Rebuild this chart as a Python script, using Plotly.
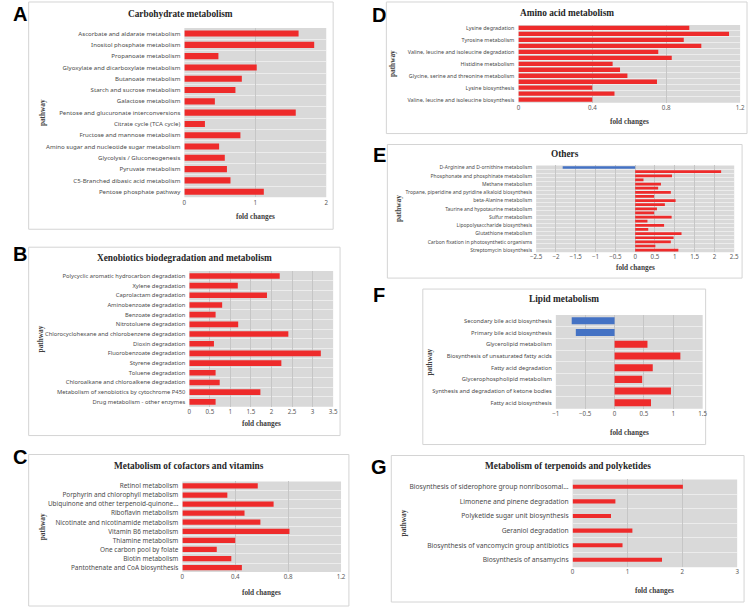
import plotly.graph_objects as go

W, H = 753, 609

# ---------------- data ----------------
A_labels = ["Ascorbate and aldarate metabolism", "Inositol phosphate metabolism", "Propanoate metabolism",
            "Glyoxylate and dicarboxylate metabolism", "Butanoate metabolism", "Starch and sucrose metabolism",
            "Galactose metabolism", "Pentose and glucuronate interconversions", "Citrate cycle (TCA cycle)",
            "Fructose and mannose metabolism", "Amino sugar and nucleotide sugar metabolism",
            "Glycolysis / Gluconeogenesis", "Pyruvate metabolism", "C5-Branched dibasic acid metabolism",
            "Pentose phosphate pathway"]
A_values = [1.61, 1.83, 0.48, 1.02, 0.81, 0.72, 0.43, 1.57, 0.29, 0.79, 0.49, 0.57, 0.60, 0.65, 1.12]

B_labels = ["Polycyclic aromatic hydrocarbon degradation", "Xylene degradation", "Caprolactam degradation",
            "Aminobenzoate degradation", "Benzoate degradation", "Nitrotoluene degradation",
            "Chlorocyclohexane and chlorobenzene degradation", "Dioxin degradation", "Fluorobenzoate degradation",
            "Styrene degradation", "Toluene degradation", "Chloroalkane and chloroalkene degradation",
            "Metabolism of xenobiotics by cytochrome P450", "Drug metabolism - other enzymes"]
B_values = [2.20, 1.18, 1.89, 0.80, 0.64, 1.19, 2.41, 0.60, 3.20, 2.24, 0.64, 0.74, 1.73, 0.64]

C_labels = ["Retinol metabolism", "Porphyrin and chlorophyll metabolism", "Ubiquinone and other terpenoid-quinone...",
            "Riboflavin metabolism", "Nicotinate and nicotinamide metabolism", "Vitamin B6 metabolism",
            "Thiamine metabolism", "One carbon pool by folate", "Biotin metabolism",
            "Pantothenate and CoA biosynthesis"]
C_values = [0.57, 0.34, 0.69, 0.47, 0.59, 0.81, 0.40, 0.26, 0.37, 0.45]

D_labels = ["Lysine degradation", "", "Tyrosine metabolism", "", "Valine, leucine and isoleucine degradation", "",
            "Histidine metabolism", "", "Glycine, serine and threonine metabolism", "", "Lysine biosynthesis", "",
            "Valine, leucine and isoleucine biosynthesis"]
D_values = [0.925, 1.14, 0.895, 0.99, 0.757, 0.83, 0.51, 0.55, 0.59, 0.75, 0.40, 0.52, 0.40]

E_labels = ["D-Arginine and D-ornithine metabolism", "", "Phosphonate and phosphinate metabolism", "",
            "Methane metabolism", "", "Tropane, piperidine and pyridine alkaloid biosynthesis", "",
            "beta-Alanine metabolism", "", "Taurine and hypotaurine metabolism", "", "Sulfur metabolism", "",
            "Lipopolysaccharide biosynthesis", "", "Glutathione metabolism", "",
            "Carbon fixation in photosynthetic organisms", "", "Streptomycin biosynthesis"]
E_values = [-1.83, 2.17, 0.93, 0.21, 0.65, 0.58, 0.90, 0.48, 1.02, 0.75, 0.55, 0.48, 0.92, 0.31,
            0.73, 0.33, 1.17, 0.97, 0.90, 0.51, 1.09]

F_labels = ["Secondary bile acid biosynthesis", "Primary bile acid biosynthesis", "Glycerolipid metabolism",
            "Biosynthesis of unsaturated fatty acids", "Fatty acid degradation", "Glycerophospholipid metabolism",
            "Synthesis and degradation of ketone bodies", "Fatty acid biosynthesis"]
F_values = [-0.73, -0.66, 0.56, 1.12, 0.65, 0.47, 0.96, 0.62]

G_labels = ["Biosynthesis of siderophore group nonribosomal...", "Limonene and pinene degradation",
            "Polyketide sugar unit biosynthesis", "Geraniol degradation",
            "Biosynthesis of vancomycin group antibiotics", "Biosynthesis of ansamycins"]
G_values = [2.01, 0.78, 0.70, 1.09, 0.91, 1.63]

titles = ["Carbohydrate metabolism", "Xenobiotics biodegradation and metabolism",
          "Metabolism of cofactors and vitamins", "Amino acid metabolism", "Others",
          "Lipid metabolism", "Metabolism of terpenoids and polyketides"]
letters = ["A", "B", "C", "D", "E", "F", "G"]
x_ranges = [[0, 2], [0, 3.5], [0, 1.2], [0, 1.2], [-2.5, 2.5], [-1, 1.5], [0, 3]]
x_dticks = [1, 0.5, 0.4, 0.4, 0.5, 0.5, 1]
all_labels = [A_labels, B_labels, C_labels, D_labels, E_labels, F_labels, G_labels]
all_values = [A_values, B_values, C_values, D_values, E_values, F_values, G_values]

# ---------------- layout geometry (pixels) ----------------
boxes = [(23, 1, 332, 229), (23, 247, 339, 436), (23, 455, 348, 607),
         (386, 1, 752, 133), (387, 144, 747, 278), (423, 289, 710, 445), (391, 456, 749, 603)]
plots = [(181, 27, 325, 197), (186, 271, 332, 407), (179, 482, 340, 573),
         (520, 24, 745, 102), (538, 165, 739, 252), (558, 315, 707, 409), (575, 480, 742, 568)]
title_y = [13, 258, 467, 12, 154, 299, 467]
fold_y = [216, 424, 593, 121, 267, 433, 591]
path_x = [37, 35, 37, 393, 399, 430, 403]
letter_pos = [(14, 13), (14, 254), (14, 458), (379, 14), (379, 155), (379, 295), (379, 468)]
label_fs = [6.1, 5.8, 6.45, 5.4, 5.0, 5.8, 6.7]
bar_w = [0.54, 0.58, 0.58, 0.72, 0.65, 0.6, 0.28]

RED = "#ee2b2b"
BLUE = "#4472c4"
TICK_FONT = "Noto Sans"
SERIF = "Liberation Serif"


def px(x):
    return x / W


def py(y):
    return 1 - y / H


fig = go.Figure()
shapes = []
annotations = []

for i in range(7):
    labels = all_labels[i]
    values = all_values[i]
    n = len(values)
    ax = "" if i == 0 else str(i + 1)
    colors = [RED if v >= 0 else BLUE for v in values]
    fig.add_trace(go.Bar(
        x=values, y=list(range(n)), orientation="h",
        marker=dict(color=colors, line=dict(width=0)),
        width=bar_w[i], xaxis="x" + ax, yaxis="y" + ax, showlegend=False,
        hoverinfo="x+y",
    ))
    x0, y0, x1, y1 = plots[i]
    tv = [k for k, l in enumerate(labels) if l]
    tt = [labels[k] for k in tv]
    fig.update_layout(**{
        "xaxis" + ax: dict(
            domain=[px(x0), px(x1)], anchor="y" + ax, range=x_ranges[i],
            tickmode="linear", tick0=x_ranges[i][0], dtick=x_dticks[i],
            showgrid=True, gridcolor="#c6c6c6", gridwidth=1, zeroline=False,
            showline=False, ticks="", tickfont=dict(family=TICK_FONT, size=6.2, color="#595959"),
            fixedrange=True,
        ),
        "yaxis" + ax: dict(
            domain=[py(y1), py(y0)], anchor="x" + ax, range=[n - 0.5, -0.5],
            tickmode="array", tickvals=tv, ticktext=tt, showgrid=False, zeroline=False,
            showline=False, ticks="", ticklabelstandoff=3,
            tickfont=dict(family=TICK_FONT, size=label_fs[i], color="#4a4a4a"),
            minor=dict(tickmode="linear", tick0=0.5, dtick=1, showgrid=True,
                       gridcolor="#ececec", gridwidth=1, ticks=""),
            fixedrange=True,
        ),
    })
    # panel frame
    bx0, by0, bx1, by1 = boxes[i]
    shapes.append(dict(type="rect", xref="paper", yref="paper", x0=px(bx0), x1=px(bx1),
                       y0=py(by1), y1=py(by0), line=dict(color="#d4d4d4", width=1),
                       fillcolor="white", layer="below"))
    # plot background
    shapes.append(dict(type="rect", xref="paper", yref="paper", x0=px(x0), x1=px(x1),
                       y0=py(y1), y1=py(y0), line=dict(width=0),
                       fillcolor="#d9d9d9", layer="below"))
    annotations.append(dict(text="<b>" + titles[i] + "</b>", xref="paper", yref="paper",
                            x=px((bx0 + bx1) / 2), y=py(title_y[i]), xanchor="center", yanchor="middle",
                            showarrow=False, font=dict(family=SERIF, size=9.3, color="#262626")))
    annotations.append(dict(text="<b>fold changes</b>", xref="paper", yref="paper",
                            x=px((x0 + x1) / 2), y=py(fold_y[i]), xanchor="center", yanchor="middle",
                            showarrow=False, font=dict(family=SERIF, size=7.3, color="#404040")))
    annotations.append(dict(text="<b>pathway</b>", xref="paper", yref="paper", textangle=-90,
                            x=px(path_x[i]), y=py((y0 + y1) / 2), xanchor="center", yanchor="middle",
                            showarrow=False, font=dict(family=SERIF, size=7.3, color="#404040")))
    lx, ly = letter_pos[i]
    annotations.append(dict(text="<b>" + letters[i] + "</b>", xref="paper", yref="paper",
                            x=px(lx), y=py(ly), xanchor="center", yanchor="middle",
                            showarrow=False, font=dict(family="Liberation Sans", size=20, color="black")))

fig.update_layout(
    width=W, height=H, margin=dict(l=0, r=0, t=0, b=0),
    paper_bgcolor="white", plot_bgcolor="rgba(0,0,0,0)",
    shapes=shapes, annotations=annotations, bargap=0.4,
)

fig.write_html("out.html", config={"displayModeBar": False},
               post_script="document.body.style.margin='0';document.body.style.overflow='hidden';")
